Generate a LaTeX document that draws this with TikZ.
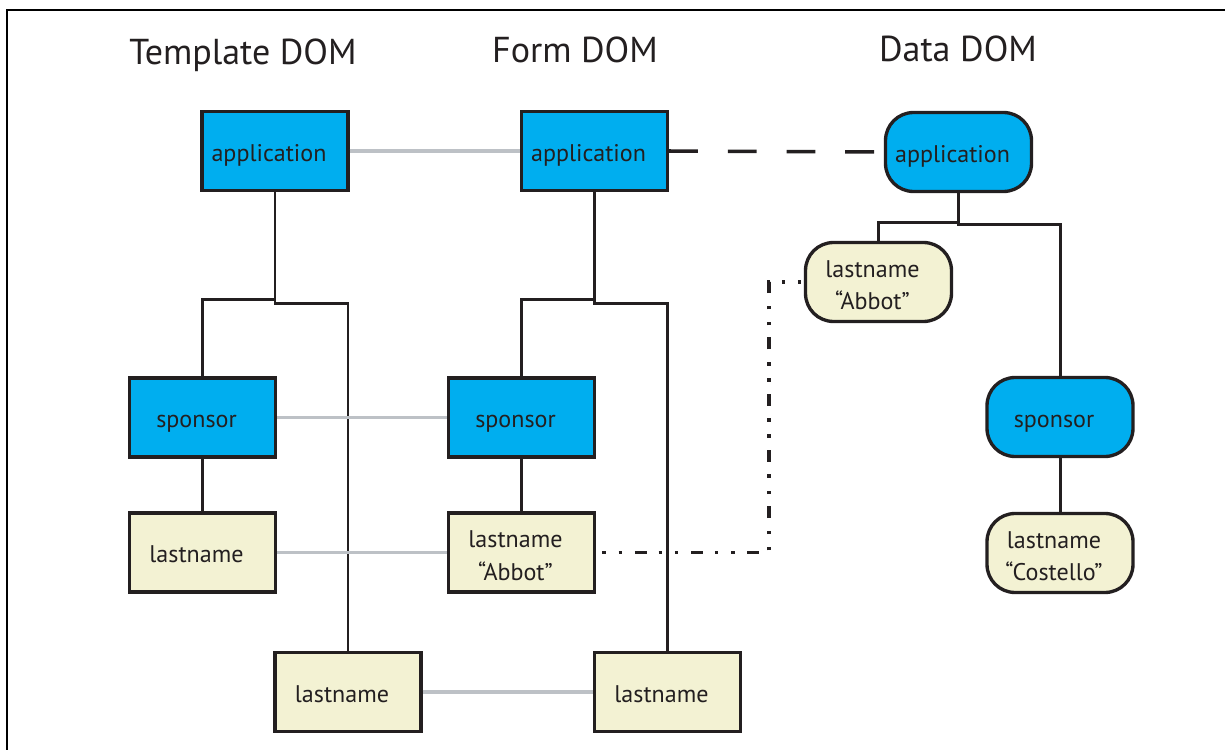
\documentclass[tikz,border=0pt]{standalone}
\usepackage{fontspec}
\setmainfont{PT Sans}
\usetikzlibrary{calc}
\definecolor{ink}{HTML}{231F20}
\definecolor{dblue}{HTML}{00AEEF}
\definecolor{cream}{HTML}{F3F2D3}
\definecolor{lgray}{HTML}{BDC1C6}
\newcommand{\sh}{\hspace*{6.8pt}}
\newcommand{\lift}{\rule{0pt}{13.4pt}}
\begin{document}
\begin{tikzpicture}[x=0.02cm,y=-0.02cm,
  box/.style={draw=ink, line width=1.9pt, minimum width=2.92cm, minimum height=1.58cm,
    inner sep=0pt, align=center, font=\fontsize{13.7}{18.5}\selectfont, text=ink},
  one/.style={text height=11.6pt, text depth=0pt},
  bluebox/.style={box, fill=dblue},
  creambox/.style={box, fill=cream},
  rnd/.style={rounded corners=0.56cm},
  tree/.style={draw=ink, line width=1.7pt},
  link/.style={draw=lgray, line width=2pt},
  dashlink/.style={draw=ink, line width=2pt, dash pattern=on 16.4pt off 17pt},
  ddlink/.style={draw=ink, line width=2pt, dash pattern=on 6.8pt off 6.8pt on 2pt off 7.2pt on 2pt off 7.2pt, dash phase=10pt},
  title/.style={anchor=base, font=\fontsize{20.5}{24}\selectfont, text=ink, inner sep=0pt},
  frameline/.style={draw=black, line width=1.5pt}]
\useasboundingbox (0,0) rectangle (1225,750);
\draw[frameline] (7,750) -- (7,10) -- (1225,10);

\node[title] (tt) at (243,65) {Template DOM};
\node[title] (ft) at (575,63) {Form DOM};
\node[title] (dt) at (958,62) {Data DOM};

% Template DOM
\node[bluebox, one] (tapp) at (275,151) {application\sh};
\node[bluebox, one] (tspon) at (202.5,417.5) {sponsor\sh};
\node[creambox, one] (tlast) at (202.5,552.5) {lastname\sh};
\node[creambox, one] (tlast2) at (348,692) {lastname\sh};

% Form DOM
\node[bluebox, one] (fapp) at (594.5,151) {application\sh};
\node[bluebox, one] (fspon) at (521.5,417.5) {sponsor\sh};
\node[creambox] (flast) at (521.5,552.5) {\lift lastname\sh\\“Abbot”\sh};
\node[creambox, one] (flast2) at (667.5,692) {lastname\sh};

% Data DOM
\node[bluebox, rnd, one] (dapp) at (958.5,152) {application\sh};
\node[creambox, rnd] (dlast) at (878.5,282) {\lift lastname\sh\\“Abbot”\sh};
\node[bluebox, rnd, one] (dspon) at (1060,417) {sponsor\sh};
\node[creambox, rnd] (dlast2) at (1060,553) {\lift lastname\sh\\“Costello”\sh};

% tree lines
\draw[tree] (tapp.south) -- ++(0,107) -| (tspon.north);
\draw[tree] (tapp.south) -- ++(0,111) -| (tlast2.north);
\draw[tree] (tspon.south) -- (tlast.north);
\draw[tree] (fapp.south) -- ++(0,107) -| (fspon.north);
\draw[tree] (fapp.south) -- ++(0,111) -| (flast2.north);
\draw[tree] (fspon.south) -- (flast.north);
\draw[tree] (dapp.south) -- ++(0,29) -| (dlast.north);
\draw[tree] (dapp.south) -- ++(0,31) -| (dspon.north);
\draw[tree] (dspon.south) -- (dlast2.north);

% gray links
\draw[link] (tapp.east) -- (fapp.west);
\draw[link] (tspon.east) -- (fspon.west);
\draw[link] (tlast.east) -- (flast.west);
\draw[link] (tlast2.east) -- (flast2.west);

% data links
\draw[dashlink] (fapp.east) -- (dapp.west);
\coordinate (bend) at (769,282);
\draw[ddlink] (flast.east) -| (bend) -- (dlast.west);
\end{tikzpicture}
\end{document}
